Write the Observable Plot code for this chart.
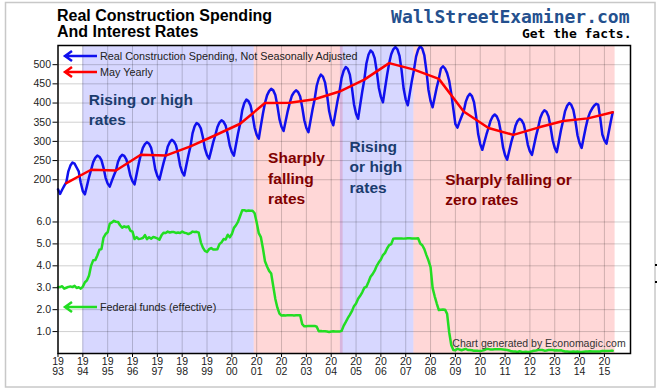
<!DOCTYPE html>
<html><head><meta charset="utf-8">
<script src="https://cdn.jsdelivr.net/npm/d3@7"></script>
<script src="https://cdn.jsdelivr.net/npm/@observablehq/plot@0.6"></script>
<style>
body{margin:0;background:#fff;}
#wrap{position:relative;width:658px;height:391px;overflow:hidden;}
#wrap svg{position:absolute;left:0;top:0;}
</style></head><body><div id="wrap"></div>
<script>
// ---- data (monthly, Jan 1993 .. May 2015) ----
const startYear = 1993;
const spending = [
  175,163,174,184,193,222,237,245,242,232,222,192, // 1993
  170,162,184,207,226,246,257,263,260,251,231,205, // 1994
  190,182,197,211,224,247,259,265,262,253,234,210, // 1995
  196,188,215,242,265,283,293,298,294,283,259,227, // 1996
  210,200,222,244,263,286,298,304,300,290,267,237, // 1997
  220,211,238,264,287,321,339,348,344,334,311,281, // 1998
  264,255,276,298,316,337,349,355,351,341,318,289, // 1999
  272,263,292,321,346,381,400,409,405,394,368,336, // 2000
  317,307,340,372,400,420,431,437,433,421,393,358, // 2001
  338,327,353,379,401,419,428,433,429,417,389,355, // 2002
  335,324,354,384,410,445,464,474,469,454,421,379, // 2003
  355,342,373,404,430,465,484,494,489,474,440,397, // 2004
  372,359,395,430,461,503,526,537,532,517,483,440, // 2005
  416,402,438,473,504,527,540,546,540,523,485,437, // 2006
  409,394,427,459,487,521,539,548,542,524,484,434, // 2007
  405,389,415,441,463,490,496,490,478,458,425,385, // 2008
  345,336,351,365,378,403,417,424,418,402,366,319, // 2009
  293,278,298,318,335,354,365,370,365,352,323,285, // 2010
  264,252,275,298,317,340,353,359,355,345,321,291, // 2011
  274,265,290,315,336,361,374,381,377,365,337,303, // 2012
  283,272,300,329,353,379,393,400,395,382,353,316, // 2013
  295,283,310,337,360,375,385,393,398,396,360,318, // 2014
  303,294,322,350,376                              // 2015
];
const fedFunds = [
  3.02,3.03,3.07,2.96,3.00,3.04,3.06,3.03,3.09,2.99,3.02,2.96,
  3.05,3.25,3.34,3.56,4.01,4.25,4.26,4.47,4.73,4.76,5.29,5.45,
  5.53,5.92,5.98,6.05,6.01,6.00,5.85,5.74,5.80,5.76,5.80,5.60,
  5.56,5.22,5.31,5.22,5.24,5.27,5.40,5.22,5.30,5.24,5.31,5.29,
  5.25,5.19,5.39,5.51,5.50,5.56,5.52,5.54,5.54,5.50,5.52,5.50,
  5.56,5.51,5.49,5.45,5.49,5.56,5.54,5.55,5.51,5.07,4.83,4.68,
  4.63,4.76,4.81,4.74,4.74,4.76,4.99,5.07,5.22,5.20,5.42,5.30,
  5.45,5.73,5.85,6.02,6.27,6.53,6.54,6.50,6.52,6.51,6.51,6.40,
  5.98,5.49,5.31,4.80,4.21,3.97,3.77,3.65,3.07,2.49,2.09,1.82,
  1.73,1.74,1.73,1.75,1.75,1.75,1.73,1.74,1.75,1.75,1.34,1.24,
  1.24,1.26,1.25,1.26,1.26,1.22,1.01,1.03,1.01,1.01,1.00,0.98,
  1.00,1.01,1.00,1.00,1.00,1.03,1.26,1.43,1.61,1.76,1.93,2.16,
  2.28,2.50,2.63,2.79,3.00,3.04,3.26,3.50,3.62,3.78,4.00,4.16,
  4.29,4.49,4.59,4.79,4.94,4.99,5.24,5.25,5.25,5.25,5.25,5.24,
  5.25,5.26,5.26,5.25,5.25,5.25,5.26,5.02,4.94,4.76,4.49,4.24,
  3.94,2.98,2.61,2.28,1.98,2.00,2.01,2.00,1.81,0.97,0.39,0.16,
  0.15,0.22,0.18,0.15,0.18,0.21,0.16,0.16,0.15,0.12,0.12,0.12,
  0.11,0.13,0.16,0.20,0.20,0.18,0.18,0.19,0.19,0.19,0.19,0.18,
  0.17,0.16,0.14,0.10,0.09,0.09,0.07,0.10,0.08,0.07,0.08,0.07,
  0.08,0.10,0.13,0.14,0.16,0.16,0.16,0.13,0.14,0.16,0.16,0.16,
  0.14,0.15,0.14,0.15,0.11,0.09,0.09,0.08,0.08,0.09,0.08,0.09,
  0.07,0.07,0.08,0.09,0.09,0.10,0.09,0.09,0.09,0.09,0.09,0.12,
  0.11,0.11,0.11,0.12,0.12
];
const mayYears = [1993,1994,1995,1996,1997,1998,1999,2000,2001,2002,2003,2004,2005,2006,2007,2008,2009,2010,2011,2012,2013,2014,2015];
const mayYearly = [191,226,224,265,263,287,316,346,400,401,410,430,461,504,487,463,378,335,317,336,353,360,376];
const periodStart = [1994, 2000.9, 2004.37, 2007.33];
const periodEnd   = [2000.9, 2004.48, 2007.33, 2015.43];
const periodKind  = ["rising","falling","rising","falling"];
const yearTicks = [1993,1994,1995,1996,1997,1998,1999,2000,2001,2002,2003,2004,2005,2006,2007,2008,2009,2010,2011,2012,2013,2014,2015];
const spendTicks = [200,250,300,350,400,450,500];
const fedTicks = [1,2,3,4,5,6];

// ---- derived tables ----
const spendData = spending.map((v,i)=>({t:startYear+i/12, v}));
const fedData = fedFunds.map((v,i)=>({t:startYear+i/12, v}));
const mayData = mayYearly.map((v,i)=>({t:mayYears[i]+4/12, v}));
const periods = periodStart.map((s,i)=>({s, e:periodEnd[i], k:periodKind[i]}));

const W=658, H=391, ML=57.5, MR=28, MT=45, MB=38;
const xDomain=[1993,2016.05];
const FONT='"Liberation Sans", Arial, sans-serif';
const tickColor="#222";

const base = Plot.plot({
  width:W, height:H, marginLeft:ML, marginRight:MR, marginTop:MT, marginBottom:MB,
  style:{fontFamily:FONT, background:"white", color:tickColor},
  x:{domain:xDomain, label:null},
  y:{domain:[-253,550], label:null},
  marks:[
    Plot.rect(periods, {x1:"s", x2:"e", y1:-253, y2:550,
      fill:d=>d.k==="rising"?"#0000ff":"#ff0000", fillOpacity:0.155}),
    Plot.gridX(yearTicks.slice(1), {stroke:"#000", strokeOpacity:0.19}),
    Plot.gridY(spendTicks, {stroke:"#000", strokeOpacity:0.19}),
    Plot.line(spendData, {x:"t", y:"v", stroke:"#1010ee", strokeWidth:2.5}),
    Plot.line(mayData, {x:"t", y:"v", stroke:"#ff0000", strokeWidth:2.5}),
    Plot.text([{t:1994.24, v:431, s:"Rising or high\nrates"}],
      {x:"t", y:"v", text:"s", textAnchor:"start", lineAnchor:"top", fontSize:15.5, fontWeight:"bold", fill:"#1a3c6e", lineHeight:1.29}),
    Plot.text([{t:2004.74, v:311, s:"Rising\nor high\nrates"}],
      {x:"t", y:"v", text:"s", textAnchor:"start", lineAnchor:"top", fontSize:15.5, fontWeight:"bold", fill:"#1a3c6e", lineHeight:1.32}),
    Plot.text([{t:2001.46, v:281, s:"Sharply\nfalling\nrates"}],
      {x:"t", y:"v", text:"s", textAnchor:"start", lineAnchor:"top", fontSize:15.5, fontWeight:"bold", fill:"#800000", lineHeight:1.32}),
    Plot.text([{t:2008.59, v:222.5, s:"Sharply falling or\nzero rates"}],
      {x:"t", y:"v", text:"s", textAnchor:"start", lineAnchor:"top", fontSize:15.5, fontWeight:"bold", fill:"#800000", lineHeight:1.29}),
    Plot.axisX(yearTicks, {tickFormat:d=>`${String(d).slice(0,2)}\n${String(d).slice(2)}`,
      tickSize:4, tickPadding:0, fontSize:10.5, lineHeight:1, label:null, stroke:"#000"}),
    Plot.axisY(spendTicks, {tickSize:5, tickPadding:2, fontSize:10.5, label:null, stroke:"#000"})
  ]
});

const fed = Plot.plot({
  width:W, height:H, marginLeft:ML, marginRight:MR, marginTop:MT, marginBottom:MB,
  style:{fontFamily:FONT, background:"transparent", color:tickColor},
  x:{domain:xDomain, axis:null, label:null},
  y:{domain:[0,14.05], label:null},
  marks:[
    Plot.gridY(fedTicks, {stroke:"#000", strokeOpacity:0.19}),
    Plot.line(fedData, {x:"t", y:"v", stroke:"#22dd22", strokeWidth:2.5}),
    Plot.axisY(fedTicks, {tickFormat:d=>d.toFixed(1), tickSize:5, tickPadding:2, fontSize:10.5, label:null, stroke:"#000"}),
    Plot.frame({stroke:"#000", strokeWidth:1.5})
  ]
});

const wrap = document.getElementById("wrap");
wrap.appendChild(base);
wrap.appendChild(fed);

// ---- titles, legend, credits ----
const svg = d3.select(fed);
const g = svg.append("g").attr("text-anchor","start");
g.append("rect").attr("x",5.5).attr("y",2.5).attr("width",649.5).attr("height",384.5)
  .attr("fill","none").attr("stroke","#c8c8c8").attr("stroke-width",1.5);
g.append("rect").attr("x",655).attr("y",264).attr("width",2).attr("height",2).attr("fill","#000");
g.append("rect").attr("x",655).attr("y",281).attr("width",2).attr("height",2).attr("fill","#000");

const title = g.append("text").attr("text-anchor","start").attr("font-family",FONT)
  .attr("font-weight","bold").attr("font-size",16).attr("fill","#000");
title.append("tspan").attr("x",57).attr("y",20.7).text("Real Construction Spending");
title.append("tspan").attr("x",57).attr("y",36.7).text("And Interest Rates");

g.append("text").attr("x",629.5).attr("y",22.7).attr("text-anchor","end")
  .attr("font-family",'"DejaVu Sans Mono", monospace').attr("font-weight","bold").attr("font-size",18)
  .attr("fill","#24508e").text("WallStreetExaminer.com");
g.append("text").attr("x",631.5).attr("y",37.5).attr("text-anchor","end")
  .attr("font-family",'"DejaVu Sans Mono", monospace').attr("font-weight","bold").attr("font-size",13)
  .attr("fill","#000").text("Get the facts.");

function legendItem(y, color, label){
  g.append("path").attr("d",`M72,${y-5}L65,${y}L72,${y+5}M65,${y}H97`)
    .attr("fill","none").attr("stroke",color).attr("stroke-width",2.5);
  g.append("text").attr("text-anchor","start").attr("x",100).attr("y",y+3.6)
    .attr("font-family",FONT).attr("font-size",10.8).attr("fill","#222").text(label);
}
legendItem(56, "#1010ee", "Real Construction Spending, Not Seasonally Adjusted");
legendItem(72, "#ff0000", "May Yearly");
legendItem(307, "#22dd22", "Federal funds (effective)");

g.append("text").attr("text-anchor","start").attr("x",452.3).attr("y",346.7)
  .attr("font-family",FONT).attr("font-size",10.5)
  .attr("fill","#333").text("Chart generated by Economagic.com");
</script></body></html>
